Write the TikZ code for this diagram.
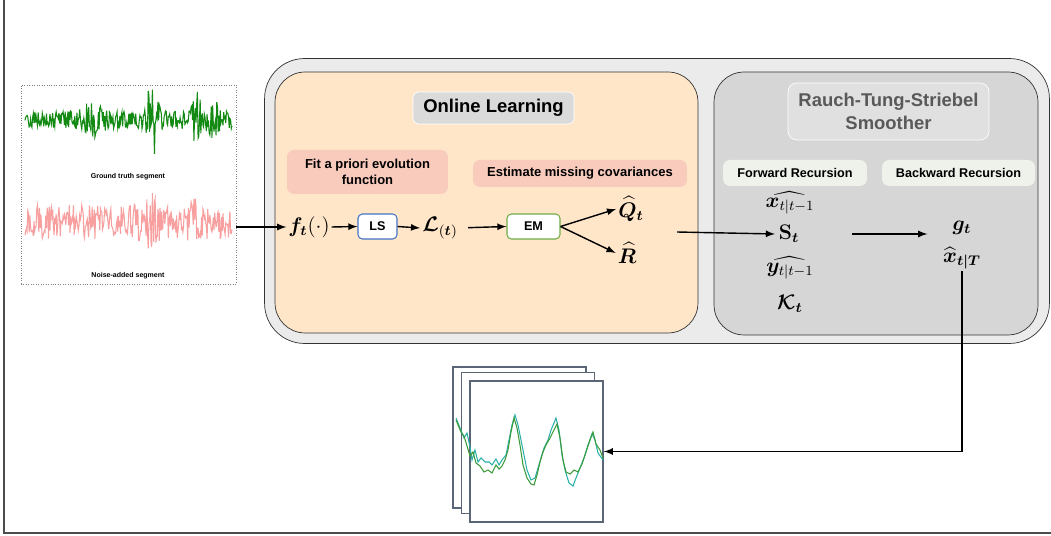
\documentclass[tikz,border=0pt]{standalone}
\usepackage{amsmath}
\usepackage{bm}
\usepackage[no-math]{fontspec}
\setmainfont{Liberation Sans}
\usetikzlibrary{positioning}

\definecolor{outerfill}{HTML}{EBEBEB}
\definecolor{learnfill}{HTML}{FFE6C8}
\definecolor{rtsfill}{HTML}{D6D6D6}
\definecolor{tagfill}{HTML}{F8CBBD}
\definecolor{fwdfill}{HTML}{EEF2EA}
\definecolor{titlefill}{HTML}{DBDADB}
\definecolor{lsblue}{HTML}{4472C4}
\definecolor{emgreen}{HTML}{70AD47}
\definecolor{platecol}{HTML}{5B6578}
\definecolor{sigpink}{HTML}{F8A0A0}
\definecolor{siggreen}{HTML}{138A13}
\definecolor{fitteal}{HTML}{2BB0A8}
\definecolor{fitgreen}{HTML}{3A9A3A}

\begin{document}
\begin{tikzpicture}[
		x=0.02cm, y=-0.02cm, >=latex,
		panel/.style={rectangle, draw=black!80, inner sep=0pt},
		tag/.style={rectangle, rounded corners=4pt, fill=tagfill, align=center, inner sep=0pt, font=\bfseries\fontsize{7.4}{9}\selectfont},
		rectag/.style={tag, fill=fwdfill, font=\bfseries\fontsize{7.2}{9}\selectfont},
		algo/.style={rectangle, rounded corners=2.5pt, draw, fill=white, line width=0.6pt, minimum height=0.5cm, inner sep=0pt, font=\bfseries\fontsize{7.2}{9}\selectfont},
		eq/.style={inner sep=0pt, font=\fontsize{11.5}{13}\selectfont},
		plate/.style={rectangle, draw=platecol, fill=white, line width=0.8pt, minimum width=2.66cm, minimum height=2.82cm, inner sep=0pt},
		segcap/.style={font=\bfseries\fontsize{4}{5}\selectfont, inner sep=0pt}
		]
		\useasboundingbox (0,0) rectangle (1051,536);
		\draw[black!70, line width=1pt] (4,0) -- (4,533) -- (1051,533);

		% panels
		\node (outer) [panel, fill=outerfill, rounded corners=0.8cm, minimum width=15.7cm, minimum height=5.7cm] at (657,201) {};
		\node (learn) [panel, fill=learnfill, rounded corners=0.6cm, minimum width=8.46cm, minimum height=5.22cm] at (486.5,202.5) {};
		\node (rts) [panel, fill=rtsfill, rounded corners=0.6cm, minimum width=6.48cm, minimum height=5.26cm] at (876,203.5) {};

		% input segments
		\node (sig) [rectangle, draw=black!50, densely dotted, fill=white, minimum width=4.3cm, minimum height=3.98cm] at (128.5,184.5) {};
		\pgfmathsetseed{11}
		\draw[siggreen, line width=0.6pt] plot[domain=25:232, samples=300, variable=\x]
			(\x, {120 + (9 + 30*exp(-((\x-152)/7)^2) + 20*exp(-((\x-197)/5)^2) + 10*exp(-((\x-92)/10)^2) + 10*exp(-((\x-214)/8)^2))*rand});
		\draw[sigpink, line width=0.6pt] plot[domain=25:232, samples=300, variable=\x]
			(\x, {222 + (17 + 14*exp(-((\x-150)/9)^2) + 12*exp(-((\x-195)/5)^2))*rand});
		\node (gtcap) [segcap] at (128,177) {Ground truth segment};
		\node (nacap) [segcap] at (128,276) {Noise-added segment};

		% online learning
		\node (oltitle) [rectangle, rounded corners=3pt, fill=titlefill, draw=white, minimum width=3.22cm, minimum height=0.64cm, font=\bfseries\fontsize{10.5}{12}\selectfont] at (493.5,108) {Online Learning};
		\node (fit) [tag, minimum width=3.22cm, minimum height=0.88cm] at (367.5,172) {Fit a priori evolution\\function};
		\node (est) [tag, minimum width=4.28cm, minimum height=0.54cm] at (580,173.5) {Estimate missing covariances};
		\node (ft) [eq] at (309,227) {$\bm{f_t}(\cdot)$};
		\node (ls) [algo, draw=lsblue, minimum width=0.78cm] at (377.5,226.5) {LS};
		\node (lt) [eq] at (440,228) {$\bm{\mathcal{L}}_{(\bm{t})}$};
		\node (em) [algo, draw=emgreen, minimum width=1.06cm] at (533.5,226.5) {EM};
		\node (qt) [eq] at (631,209) {$\widehat{\bm{Q}}_{\bm{t}}$};
		\node (rr) [eq] at (627,253) {$\widehat{\bm{R}}$};

		% smoother
		\node (rtstitle) [rectangle, rounded corners=5pt, fill=titlefill!85!white, draw=white, minimum width=4.02cm, minimum height=1.14cm, align=center, text=black!65, font=\bfseries\fontsize{10.5}{13}\selectfont] at (888.5,111.5) {Rauch-Tung-Striebel\\Smoother};
		\node (fwd) [rectag, minimum width=2.88cm, minimum height=0.52cm] at (795,173) {Forward Recursion};
		\node (bwd) [rectag, minimum width=3.06cm, minimum height=0.52cm] at (958.5,173) {Backward Recursion};
		\node (xp) [eq] at (790,203) {$\widehat{\bm{x}_{t|t-1}}$};
		\node (st) [eq] at (789,234) {$\mathbf{S}_{\bm{t}}$};
		\node (yp) [eq] at (790,268) {$\widehat{\bm{y}_{t|t-1}}$};
		\node (kt) [eq] at (790,304) {$\bm{\mathcal{K}_t}$};
		\node (gt) [eq] at (962,228) {$\bm{g_t}$};
		\node (xT) [eq] at (962,258) {$\widehat{\bm{x}}_{\bm{t|T}}$};

		% smoothed output
		\node (p1) [plate] at (519.5,437.5) {};
		\node (p2) [plate] at (528,443) {};
		\node (p3) [plate] at (536.5,451.5) {};
		\draw[fitteal, line width=0.6pt] plot coordinates {(456,418) (460,428) (464,438) (467,433) (470,447) (472,460) (475,450) (478,462) (481,458) (485,462) (489,462) (492,465) (496,459) (499,465) (502,460) (506,455) (509,440) (512,425) (515,415) (518,425) (521,440) (524,455) (527,470) (531,480) (535,478) (538,468) (541,458) (544,448) (548,440) (551,430) (554,423) (556,418) (559,430) (562,455) (565,470) (569,483) (573,486) (576,478) (580,468) (584,458) (588,445) (592,434) (595,440) (598,453) (603,460)};
		\draw[fitgreen, line width=0.6pt] plot coordinates {(456,420) (461,432) (464,436) (467,446) (470,456) (473,452) (476,463) (480,466) (484,472) (488,470) (492,473) (496,465) (499,469) (502,466) (505,460) (508,450) (511,432) (514,418) (517,428) (520,445) (523,465) (527,478) (531,484) (534,485) (537,475) (540,462) (543,452) (546,445) (550,438) (554,430) (557,424) (560,438) (563,460) (566,472) (570,474) (574,470) (578,472) (582,464) (586,452) (590,440) (593,432) (596,444) (600,450) (603,458)};

		% connectors
		\draw[->, thick] (sig.east |- ft.west) -- ([xshift=-1pt]ft.west);
		\draw[->, thick] ([xshift=1pt]ft.east) -- (ls.west);
		\draw[->, thick] (ls.east) -- ([xshift=-1pt]lt.west);
		\draw[->, thick, shorten <=0.2cm] (lt.east) -- (em.west);
		\draw[->, thick] (em.east) -- ([xshift=-1pt]qt.west);
		\draw[->, thick] (em.east) -- ([xshift=-1pt]rr.west);
		\coordinate (rtsin) at (677,232);
		\draw[->, thick] (rtsin) -- ([xshift=-2pt]st.west);
		\draw[->, thick, shorten <=1.05cm, shorten >=0.5cm] (st.east) -- (st.east -| gt.west);
		\draw[->, thick] ([yshift=-1pt]xT.south) |- (p3.east);
	\end{tikzpicture}
\end{document}
